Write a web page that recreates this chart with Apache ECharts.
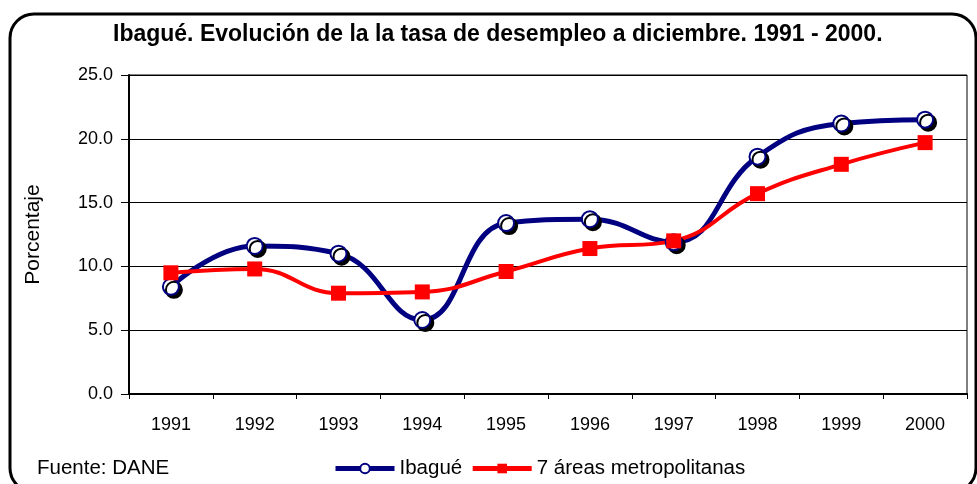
<!DOCTYPE html>
<html><head><meta charset="utf-8">
<script src="https://cdn.jsdelivr.net/npm/echarts@6/dist/echarts.min.js"></script>
<style>html,body{margin:0;padding:0;background:#fff}#c{width:977px;height:484px}</style>
</head><body><div id="c"></div>
<script>
const categories = ['1991','1992','1993','1994','1995','1996','1997','1998','1999','2000'];
const ibague = [8.4, 11.6, 11.0, 5.8, 13.4, 13.7, 11.9, 18.6, 21.2, 21.5];
const areas7 = [9.5, 9.8, 7.9, 8.0, 9.6, 11.4, 12.0, 15.7, 18.0, 19.7];
const yTicks = [0, 5, 10, 15, 20, 25];

const FONT = '"Liberation Sans", Arial, sans-serif';
const chart = echarts.init(document.getElementById('c'));
chart.setOption({
  animation: false,
  backgroundColor: '#fff',
  title: {
    text: 'Ibagué. Evolución de la la tasa de desempleo a diciembre. 1991 - 2000.',
    left: 108, top: 18,
    textStyle: {fontFamily: FONT, fontSize: 23, fontWeight: 'bold', color: '#000'}
  },
  grid: {left: 129, right: 10, top: 75, bottom: 90, show: true, borderColor: '#000', borderWidth: 1},
  legend: {
    left: 333, top: 458, padding: 0, itemWidth: 59, itemHeight: 12, itemGap: 8,
    lineStyle: {width: 5},
    textStyle: {fontFamily: FONT, fontSize: 20.5, color: '#000'},
    data: [
      {name: 'Ibagué', itemStyle: {shadowColor: 'rgba(0,0,0,0)'}},
      {name: '7 áreas metropolitanas'}
    ]
  },
  xAxis: {
    type: 'category', data: categories, boundaryGap: true,
    axisLine: {lineStyle: {color: '#000', width: 2}},
    axisTick: {show: true, length: 5, lineStyle: {color: '#000'}},
    axisLabel: {fontFamily: FONT, fontSize: 18, color: '#000', margin: 22}
  },
  yAxis: {
    type: 'value', min: yTicks[0], max: yTicks[yTicks.length-1], interval: 5,
    name: 'Porcentaje', nameLocation: 'middle', nameGap: 85,
    nameTextStyle: {fontFamily: FONT, fontSize: 21, color: '#000'},
    axisLine: {show: true, lineStyle: {color: '#000', width: 2}},
    axisTick: {show: true, length: 8, lineStyle: {color: '#000'}},
    axisLabel: {fontFamily: FONT, fontSize: 18, color: '#000', margin: 16, formatter: v => v.toFixed(1)},
    splitLine: {lineStyle: {color: '#000', width: 1}}
  },
  series: [
    {
      name: 'Ibagué', type: 'line', data: ibague, smooth: 0.45,
      symbol: 'circle', symbolSize: 16,
      lineStyle: {color: '#000080', width: 5},
      itemStyle: {color: '#fff', borderColor: '#000080', borderWidth: 2,
        shadowColor: '#000', shadowOffsetX: 3, shadowOffsetY: 3, shadowBlur: 0}
    },
    {
      name: '7 áreas metropolitanas', type: 'line', data: areas7, smooth: 0.45,
      symbol: 'rect', symbolSize: 15,
      lineStyle: {color: '#ff0000', width: 4},
      itemStyle: {color: '#ff0000'}
    }
  ],
  graphic: [
    {type: 'rect', shape: {x: 10, y: 14, width: 966, height: 478, r: 24},
     style: {fill: null, stroke: '#000', lineWidth: 3}, silent: true},
    {type: 'text', left: 37, top: 458,
     style: {text: 'Fuente: DANE', fontFamily: FONT, fontSize: 20.5, fill: '#000'}}
  ]
});
</script></body></html>
